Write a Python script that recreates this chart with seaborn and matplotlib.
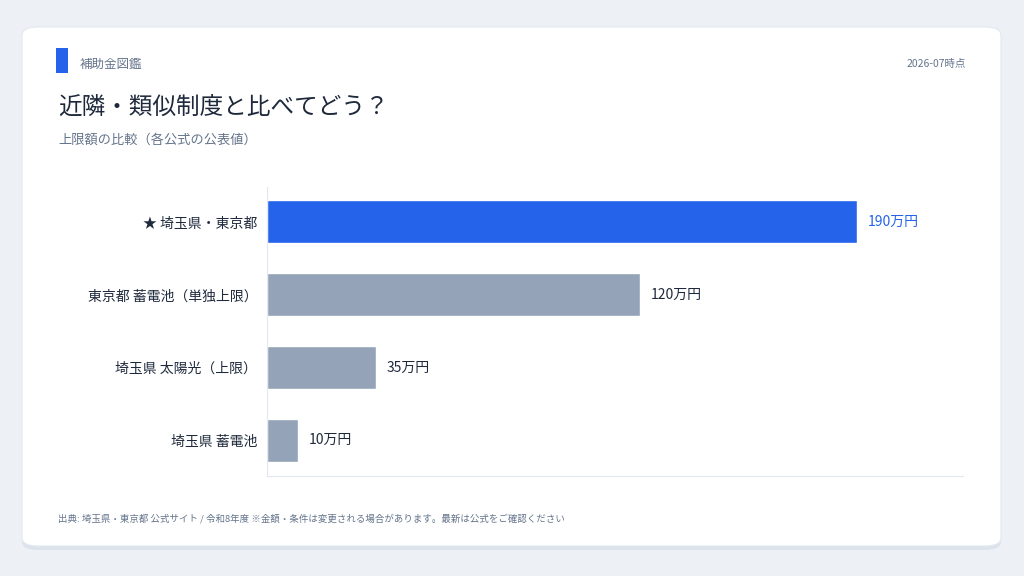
import matplotlib.pyplot as plt
import seaborn as sns
import pandas as pd
from matplotlib.patches import FancyBboxPatch, Rectangle

categories = ['★ 埼玉県・東京都', '東京都 蓄電池（単独上限）', '埼玉県 太陽光（上限）', '埼玉県 蓄電池']
values = [190, 120, 35, 10]
value_labels = ['190万円', '120万円', '35万円', '10万円']
colors = ['#2563EB', '#94A3B8', '#94A3B8', '#94A3B8']

sns.set_style('white')
plt.rcParams['font.family'] = ['Noto Sans CJK JP', 'DejaVu Sans']

fig = plt.figure(figsize=(10.24, 5.76), dpi=100)
fig.patch.set_facecolor('#EDF1F6')

# card with shadow
fig.patches.append(FancyBboxPatch((22 / 1024, 1 - 550 / 576), 979 / 1024, 519 / 576,
                                  boxstyle='round,pad=0,rounding_size=0.015', transform=fig.transFigure,
                                  facecolor='#DCE3EB', edgecolor='none', zorder=-2))
fig.patches.append(FancyBboxPatch((22 / 1024, 1 - 546 / 576), 979 / 1024, 519 / 576,
                                  boxstyle='round,pad=0,rounding_size=0.015', transform=fig.transFigure,
                                  facecolor='white', edgecolor='#E2E8F0', linewidth=0.8, zorder=-1))
fig.patches.append(Rectangle((56 / 1024, 1 - 73 / 576), 12 / 1024, 25 / 576, transform=fig.transFigure,
                             facecolor='#2563EB', edgecolor='none', zorder=1))

fig.text(80 / 1024, 1 - 64 / 576, '補助金図鑑', fontsize=9, color='#64748B', va='center')
fig.text(966 / 1024, 1 - 64 / 576, '2026-07時点', fontsize=7.5, color='#64748B', va='center', ha='right')
fig.text(58 / 1024, 1 - 107 / 576, '近隣・類似制度と比べてどう？', fontsize=17, color='#1E293B', va='center')
fig.text(58 / 1024, 1 - 140 / 576, '上限額の比較（各公式の公表値）', fontsize=9.5, color='#64748B', va='center')
fig.text(58 / 1024, 1 - 519 / 576,
         '出典: 埼玉県・東京都 公式サイト / 令和8年度 ※金額・条件は変更される場合があります。最新は公式をご確認ください',
         fontsize=6.8, color='#64748B', va='center')

ax = fig.add_axes([267 / 1024, 1 - 476 / 576, 696 / 1024, 289 / 576], zorder=3)
df = pd.DataFrame({'category': categories, 'value': values})
sns.barplot(data=df, x='value', y='category', hue='category', palette=colors,
            legend=False, width=0.59, ax=ax, saturation=1)
ax.set_facecolor('none')
ax.set_xlim(0, 224)
ax.set_ylim(3.49, -0.48)
ax.set_xlabel('')
ax.set_ylabel('')
ax.set_xticks([])
ax.tick_params(axis='y', length=3, color='#CBD5E1', labelsize=10, labelcolor='#1E293B', pad=4)
for s in ['top', 'right']:
    ax.spines[s].set_visible(False)
for s in ['left', 'bottom']:
    ax.spines[s].set_color('#E2E8F0')
    ax.spines[s].set_linewidth(0.8)

for i, (v, lab) in enumerate(zip(values, value_labels)):
    ax.text(v + 3.5, i, lab, va='center', ha='left', fontsize=10,
            color='#2563EB' if i == 0 else '#1E293B')

fig.savefig('out.png', dpi=100, facecolor=fig.get_facecolor())
